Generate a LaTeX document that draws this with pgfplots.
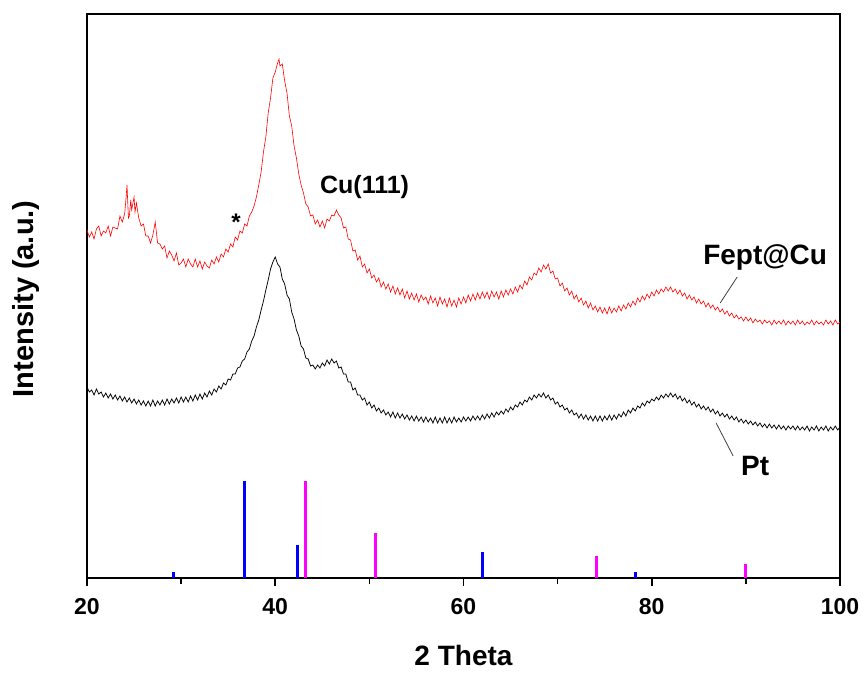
\documentclass[border=0pt]{standalone}
\usepackage{fontspec}
\setmainfont{Liberation Sans}
\usepackage{pgfplots}
\pgfplotsset{compat=1.18}
\definecolor{refmag}{RGB}{255,0,255}
\definecolor{refblue}{RGB}{0,0,255}
\definecolor{refred}{RGB}{255,0,0}

% FePt@Cu pattern (offset intensity, a.u.)
\pgfplotstableread{
x y
20 348
20.25 341
20.5 346
20.75 339
21 349
21.25 352
21.5 342
21.75 347
22 345
22.25 352
22.5 342
22.75 351
23 350
23.25 349
23.5 362
23.75 356
24 364
24.15 380
24.25 393
24.4 360
24.5 362
24.65 378
24.75 368
25 381
25.1 366
25.25 375
25.5 360
25.75 352
26 354
26.25 342
26.5 342
26.75 335
27 343
27.25 356
27.5 335
27.75 334
28 329
28.25 332
28.5 320
28.75 327
29 323
29.25 317
29.5 325
29.75 313
30 315
30.25 319
30.5 311
30.75 319
31 314
31.25 311
31.5 319
31.75 311
32 317
32.25 309
32.5 316
32.75 312
33 310
33.25 318
33.5 314
33.75 321
34 316
34.25 324
34.5 321
34.75 329
35 326
35.25 334
35.5 331
35.75 341
36 338
36.25 347
36.5 345
36.75 354
37 352
37.25 362
37.5 366
37.75 372
38 381
38.25 393
38.5 406
38.75 426
39 441
39.25 465
39.5 480
39.75 500
40 506
40.25 515
40.4 519
40.5 512
40.75 514
41 497
41.25 485
41.5 462
41.75 452
42 432
42.25 420
42.5 404
42.75 393
43 385
43.25 374
43.5 371
43.75 362
44 363
44.25 354
44.5 358
44.75 351
45 357
45.25 350
45.5 359
45.75 357
46 363
46.25 362
46.5 368
46.75 363
47 360
47.25 350
47.5 351
47.75 339
48 338
48.25 327
48.5 328
48.75 318
49 322
49.25 311
49.5 314
49.75 305
50 309
50.25 300
50.5 303
50.75 296
51 300
51.25 291
51.5 296
51.75 289
52 294
52.25 286
52.5 292
52.75 284
53 290
53.25 283
53.5 289
53.75 280
54 287
54.25 279
54.5 285
54.75 278
55 284
55.25 276
55.5 283
55.75 278
56 281
56.25 274
56.5 282
56.75 275
57 280
57.25 272
57.5 281
57.75 274
58 279
58.25 271
58.5 280
58.75 272
59 278
59.25 271
59.5 280
59.75 274
60 281
60.25 275
60.5 283
60.75 277
61 284
61.25 278
61.5 285
61.75 279
62 286
62.25 280
62.5 286
62.75 279
63 287
63.25 281
63.5 286
63.75 279
64 287
64.25 281
64.5 288
64.75 283
65 289
65.25 284
65.5 291
65.75 286
66 293
66.25 289
66.5 297
66.75 293
67 301
67.25 298
67.5 305
67.75 303
68 310
68.25 306
68.5 313
68.75 309
69 314
69.25 305
69.5 307
69.75 299
70 300
70.25 292
70.5 295
70.75 287
71 290
71.25 283
71.5 287
71.75 279
72 283
72.25 276
72.5 280
72.75 273
73 277
73.25 270
73.5 275
73.75 268
74 272
74.25 266
74.5 271
74.75 265
75 270
75.25 264
75.5 271
75.75 265
76 270
76.25 266
76.5 272
76.75 267
77 273
77.25 269
77.5 275
77.75 271
78 277
78.25 273
78.5 280
78.75 276
79 282
79.25 278
79.5 284
79.75 280
80 286
80.25 282
80.5 288
80.75 284
81 289
81.25 286
81.5 291
81.75 287
82 291
82.25 286
82.5 289
82.75 284
83 288
83.25 282
83.5 285
83.75 279
84 283
84.25 278
84.5 281
84.75 275
85 279
85.25 274
85.5 277
85.75 271
86 275
86.25 270
86.5 273
86.75 268
87 271
87.25 266
87.5 269
87.75 264
88 267
88.25 262
88.5 265
88.75 260
89 263
89.25 259
89.5 261
89.75 257
90 261
90.25 257
90.5 260
90.75 255
91 259
91.25 256
91.5 258
91.75 254
92 258
92.25 255
92.5 257
92.75 253
93 258
93.25 254
93.5 257
93.75 254
94 258
94.25 253
94.5 257
94.75 254
95 257
95.25 253
95.5 258
95.75 254
96 257
96.25 253
96.5 256
96.75 254
97 258
97.25 253
97.5 257
97.75 254
98 256
98.25 253
98.5 258
98.75 254
99 257
99.25 253
99.5 258
99.75 254
100 256
}\feptcu

% Pt pattern
\pgfplotstableread{
x y
20 191
20.25 186
20.5 188
20.75 183
21 189
21.25 184
21.5 186
21.75 181
22 185
22.25 180
22.5 184
22.75 179
23 183
23.25 178
23.5 182
23.75 177
24 181
24.25 176
24.5 180
24.75 175
25 179
25.25 174
25.5 178
25.75 173
26 177
26.25 172
26.5 177
26.75 172
27 178
27.25 172
27.5 177
27.75 173
28 178
28.25 173
28.5 179
28.75 174
29 179
29.25 175
29.5 180
29.75 175
30 181
30.25 176
30.5 181
30.75 176
31 182
31.25 177
31.5 183
31.75 178
32 184
32.25 179
32.5 185
32.75 181
33 187
33.25 183
33.5 189
33.75 186
34 192
34.25 189
34.5 195
34.75 193
35 199
35.25 198
35.5 204
35.75 204
36 210
36.25 211
36.5 217
36.75 219
37 226
37.25 229
37.5 237
37.75 242
38 251
38.25 258
38.5 268
38.75 277
39 288
39.25 298
39.5 309
39.75 316
40 321
40.25 314
40.5 311
40.75 299
41 294
41.25 283
41.5 279
41.75 266
42 259
42.25 248
42.5 242
42.75 232
43 229
43.25 220
43.5 219
43.75 212
44 213
44.25 209
44.5 213
44.75 210
45 215
45.25 212
45.5 218
45.75 214
46 219
46.25 215
46.5 217
46.75 210
47 211
47.25 204
47.5 204
47.75 196
48 196
48.25 188
48.5 190
48.75 183
49 183
49.25 178
49.5 180
49.75 173
50 176
50.25 170
50.5 173
50.75 167
51 170
51.25 165
51.5 168
51.75 163
52 166
52.25 161
52.5 166
52.75 160
53 165
53.25 160
53.5 164
53.75 159
54 163
54.25 158
54.5 162
54.75 157
55 162
55.25 157
55.5 161
55.75 156
56 161
56.25 156
56.5 160
56.75 155
57 161
57.25 155
57.5 160
57.75 155
58 161
58.25 155
58.5 160
58.75 155
59 161
59.25 156
59.5 160
59.75 156
60 161
60.25 157
60.5 161
60.75 157
61 162
61.25 158
61.5 162
61.75 158
62 163
62.25 159
62.5 164
62.75 160
63 165
63.25 161
63.5 166
63.75 163
64 167
64.25 164
64.5 169
64.75 166
65 171
65.25 168
65.5 173
65.75 171
66 176
66.25 173
66.5 178
66.75 176
67 181
67.25 178
67.5 183
67.75 180
68 184
68.25 181
68.5 185
68.75 180
69 183
69.25 178
69.5 180
69.75 174
70 176
70.25 171
70.5 173
70.75 168
71 170
71.25 165
71.5 168
71.75 163
72 165
72.25 160
72.5 164
72.75 159
73 163
73.25 158
73.5 162
73.75 157
74 162
74.25 157
74.5 162
74.75 157
75 162
75.25 158
75.5 163
75.75 158
76 163
76.25 159
76.5 164
76.75 161
77 166
77.25 162
77.5 168
77.75 165
78 170
78.25 167
78.5 172
78.75 170
79 175
79.25 172
79.5 177
79.75 175
80 179
80.25 177
80.5 181
80.75 178
81 183
81.25 180
81.5 184
81.75 181
82 185
82.25 181
82.5 184
82.75 179
83 182
83.25 177
83.5 180
83.75 175
84 178
84.25 173
84.5 176
84.75 171
85 174
85.25 169
85.5 172
85.75 168
86 171
86.25 166
86.5 169
86.75 164
87 167
87.25 162
87.5 165
87.75 161
88 164
88.25 159
88.5 162
88.75 158
89 161
89.25 156
89.5 159
89.75 155
90 158
90.25 154
90.5 157
90.75 153
91 156
91.25 152
91.5 155
91.75 151
92 154
92.25 150
92.5 154
92.75 150
93 153
93.25 149
93.5 153
93.75 149
94 152
94.25 148
94.5 152
94.75 149
95 152
95.25 148
95.5 152
95.75 148
96 151
96.25 148
96.5 152
96.75 147
97 151
97.25 148
97.5 152
97.75 147
98 151
98.25 148
98.5 152
98.75 147
99 151
99.25 148
99.5 152
99.75 148
100 151
}\pt

\begin{document}
\begin{tikzpicture}
\begin{axis}[
  scale only axis,
  width=753pt, height=564pt,
  xmin=20, xmax=100, ymin=0, ymax=564,
  xtick={20,40,60,80,100},
  minor xtick={30,50,70,90},
  ytick=\empty,
  xtick pos=bottom,
  tick align=outside,
  major tick length=8pt,
  minor tick length=6pt,
  every tick/.style={black, line width=1.6pt},
  axis line style={line width=1.8pt},
  /pgf/number format/assume math mode=true,
  xticklabel style={font=\fontsize{23}{26}\selectfont\bfseries, yshift=-9pt},
  xlabel={2 Theta},
  ylabel={Intensity (a.u.)},
  xlabel style={font=\fontsize{28}{32}\selectfont\bfseries, at={(axis description cs:0.5,-0.1365)}, anchor=center},
  ylabel style={font=\fontsize{29}{33}\selectfont\bfseries, at={(axis description cs:-0.0810,0.495)}, anchor=center, rotate=0},
  clip=false,
]
\addplot[refred, line width=0.6pt] table {\feptcu};
\addplot[black, line width=0.75pt] table {\pt};
\addplot[ycomb, refblue, line width=3pt] coordinates {
  (29.2,6.5) (36.7,97) (42.35,33) (62.0,26) (78.3,6.5)
};
\addplot[ycomb, refmag, line width=3pt] coordinates {
  (43.2,97) (50.7,45) (74.1,22) (90.0,14)
};
\node[font=\fontsize{24}{26}\selectfont\bfseries, anchor=base] at (axis cs:35.83,347) {*};
\node[font=\fontsize{25}{28}\selectfont\bfseries, anchor=base] at (axis cs:49.49,384) {Cu(111)};
\node[font=\fontsize{28}{32}\selectfont\bfseries, anchor=base] at (axis cs:92.05,313) {Fept@Cu};
\node[font=\fontsize{28}{32}\selectfont\bfseries, anchor=base] at (axis cs:90.99,103) {Pt};
\draw[black!75, line width=0.8pt] (axis cs:87.27,275) -- (axis cs:89.08,301);
\draw[black!75, line width=0.8pt] (axis cs:86.84,155) -- (axis cs:88.65,122);
\path (axis cs:20,0) ++(-87pt,-94pt) coordinate (bbsw);
\path (axis cs:100,564) ++(26pt,14pt) coordinate (bbne);
\end{axis}
\path (bbsw) rectangle (bbne);
\end{tikzpicture}
\end{document}
